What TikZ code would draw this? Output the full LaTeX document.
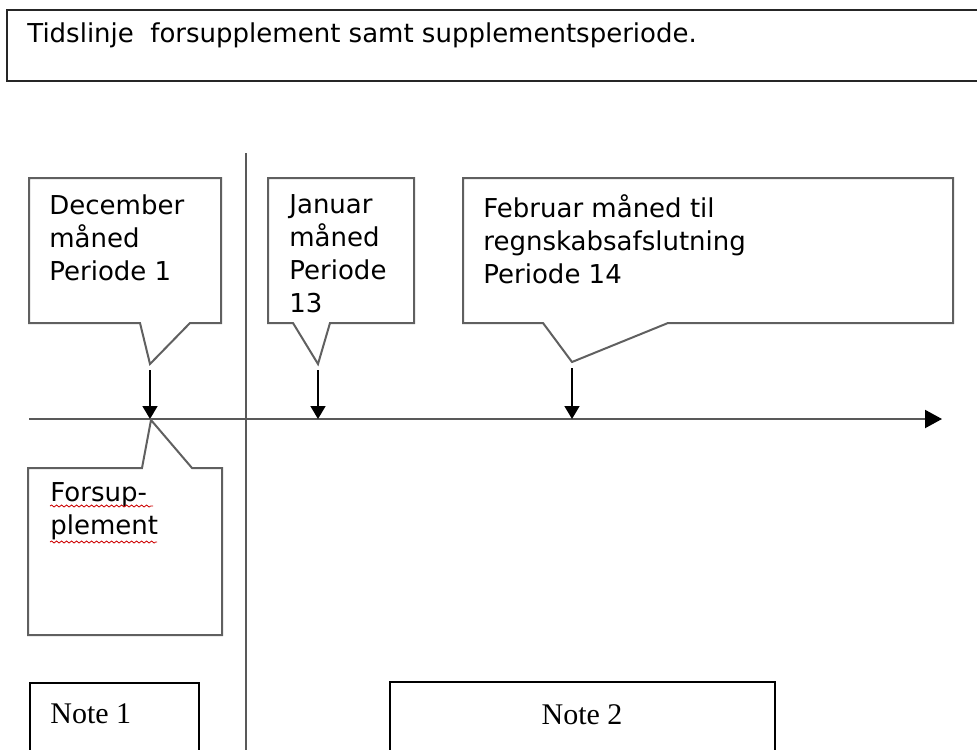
\documentclass[tikz,border=0pt]{standalone}
\usepackage{fontspec}
\setmainfont{DejaVu Sans}
\newfontfamily\notefont{Liberation Serif}
\usetikzlibrary{arrows.meta,decorations.pathmorphing}

\tikzset{
  bubble/.style={draw=gray!75!black, line width=1pt},
  bubbletext/.style={anchor=north west, inner sep=0pt, align=left, font=\fontsize{13}{16.5}\selectfont},
  tickarrow/.style={-{Triangle[width=7.5pt,length=6.5pt]}, line width=0.8pt},
  notebox/.style={draw=black, line width=1pt},
  notetext/.style={inner sep=0pt, font=\notefont\fontsize{15}{18}\selectfont},
  squiggle/.style={red!80!black, line width=0.4pt, decorate, decoration={snake, amplitude=0.5pt, segment length=2.5pt}}
}

\begin{document}
\begin{tikzpicture}[x=0.5pt,y=-0.5pt]
\clip (0,0) rectangle (977,749);

% overskrift
\draw[draw=gray!30!black, line width=1pt] (7,10) rectangle (1000,81);
\node[anchor=base west, inner sep=0pt, font=\fontsize{13}{15}\selectfont] (title) at (27,43) {Tidslinje~ forsupplement samt supplementsperiode.};

% tidslinje og skillelinje
\coordinate (start) at (29,419);
\coordinate (slut) at (942,419);
\coordinate (top) at (246,153);
\coordinate (bund) at (246,760);
\draw[gray!70!black, line width=1pt, -{Triangle[width=9pt,length=8.5pt,color=black]}] (start) -- (slut);
\draw[gray!70!black, line width=1pt] (top) -- (bund);

% december
\coordinate (dec) at (150,364);
\draw[bubble] (29,178) -- (221,178) -- (221,323) -- (190,323) -- (dec) -- (140,323) -- (29,323) -- cycle;
\node[bubbletext] (dectxt) at (49,194) {December\\måned\\Periode 1};
\draw[tickarrow] ([yshift=-3pt]dec) -- (dec |- start);

% januar
\coordinate (jan) at (318,364);
\draw[bubble] (268,178) -- (414,178) -- (414,323) -- (330,323) -- (jan) -- (293,323) -- (268,323) -- cycle;
\node[bubbletext] (jantxt) at (289,194) {Januar\\måned\\Periode\\13};
\draw[tickarrow] ([yshift=-3pt]jan) -- (jan |- start);

% februar
\coordinate (feb) at (572,362);
\draw[bubble] (463,178) -- (953,178) -- (953,323) -- (668,323) -- (feb) -- (543,323) -- (463,323) -- cycle;
\node[bubbletext] (febtxt) at (483,194) {Februar måned til\\regnskabsafslutning\\Periode 14};
\draw[tickarrow] ([yshift=-3pt]feb) -- (feb |- start);

% forsupplement
\coordinate (fors) at (151,420);
\draw[bubble] (28,468) -- (142,468) -- (fors) -- (192,468) -- (222,468) -- (222,635) -- (28,635) -- cycle;
\node[bubbletext] (forstxt) at (50,482) {Forsup-\\plement};
\draw[squiggle] (50,506) -- (153,506);
\draw[squiggle] (50,542) -- (157,542);

% noter
\draw[notebox] (30,683) rectangle (199,770);
\node[notetext, anchor=base west] (note1) at (50,723) {Note 1};
\draw[notebox] (390,682) rectangle (775,770);
\node[notetext, anchor=base] (note2) at (582,724) {Note 2};
\end{tikzpicture}
\end{document}
